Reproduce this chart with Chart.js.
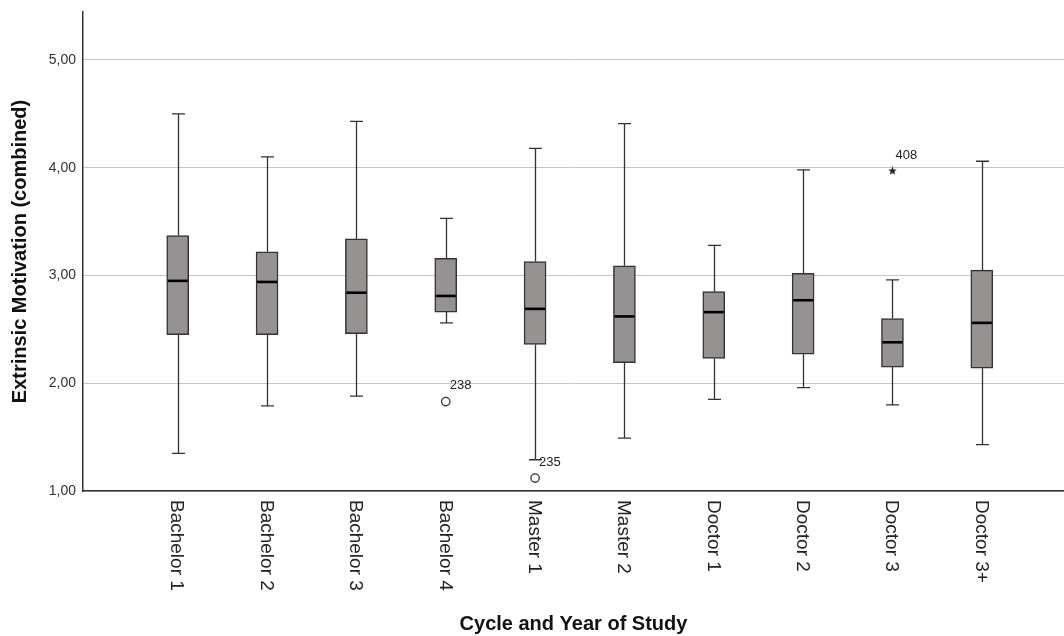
<!DOCTYPE html>
<html>
<head>
<meta charset="utf-8">
<title>Extrinsic Motivation by Cycle and Year of Study</title>
<script src="https://cdn.jsdelivr.net/npm/chart.js@4.4.1/dist/chart.umd.min.js"></script>
<style>
  html, body { margin: 0; padding: 0; background: #ffffff; }
  #wrap { width: 1064px; height: 636px; position: relative; }
</style>
</head>
<body>
<div id="wrap"><canvas id="chart"></canvas></div>
<script>
// Groups on the horizontal axis
const categories = ['Bachelor 1', 'Bachelor 2', 'Bachelor 3', 'Bachelor 4', 'Master 1',
                    'Master 2', 'Doctor 1', 'Doctor 2', 'Doctor 3', 'Doctor 3+'];

// Five-number summaries per group
const whiskerLow  = [1.35, 1.79, 1.88, 2.56, 1.29, 1.49, 1.85, 1.96, 1.80, 1.43];
const quartile1   = [2.45, 2.45, 2.46, 2.66, 2.36, 2.19, 2.23, 2.27, 2.15, 2.14];
const medians     = [2.95, 2.94, 2.84, 2.81, 2.69, 2.62, 2.66, 2.77, 2.38, 2.56];
const quartile3   = [3.37, 3.22, 3.34, 3.16, 3.13, 3.09, 2.85, 3.02, 2.60, 3.05];
const whiskerHigh = [4.50, 4.10, 4.43, 3.53, 4.18, 4.41, 3.28, 3.98, 2.96, 4.06];

// Outliers (circles) and extreme values (stars) with case numbers
const outlierCategory = [3, 4];
const outlierValue    = [1.83, 1.12];
const outlierLabel    = ['238', '235'];
const extremeCategory = [8];
const extremeValue    = [3.97];
const extremeLabel    = ['408'];

// Value axis ticks
const yTicks = [1, 2, 3, 4, 5];

const FONT = '"Liberation Sans", Arial, Helvetica, sans-serif';
const INK = '#333333';
const BOX_WIDTH = 22;
const CAP_WIDTH = 13;

// Small filled star used as the marker for extreme values
function makeStar(size, color) {
  const c = document.createElement('canvas');
  c.width = size; c.height = size;
  const g = c.getContext('2d');
  const cx = size / 2, cy = size / 2, R = size / 2, r = R * 0.42;
  g.beginPath();
  for (let k = 0; k < 10; k++) {
    const rad = k % 2 === 0 ? R : r;
    const a = -Math.PI / 2 + k * Math.PI / 5;
    const px = cx + rad * Math.cos(a), py = cy + rad * Math.sin(a);
    if (k === 0) g.moveTo(px, py); else g.lineTo(px, py);
  }
  g.closePath();
  g.fillStyle = color;
  g.fill();
  return c;
}

// Drop the label padding Chart.js reserves at the ends of an axis
function noEdgePadding(scale) {
  scale.paddingTop = 0;
  scale.paddingBottom = 0;
  scale.paddingLeft = 0;
  scale.paddingRight = 0;
}

const boxData = categories.map((_, i) => ({ x: i, y: [quartile1[i], quartile3[i]] }));
const outlierData = outlierCategory.map((c, i) => ({ x: c, y: outlierValue[i] }));
const extremeData = extremeCategory.map((c, i) => ({ x: c, y: extremeValue[i] }));

// Whiskers behind the boxes, medians on top, rotated group labels and case numbers
const boxplotPlugin = {
  id: 'boxplotParts',
  beforeDatasetsDraw(chart) {
    const { ctx, scales: { x, y } } = chart;
    ctx.save();
    ctx.strokeStyle = INK;
    ctx.lineWidth = 1.3;
    categories.forEach((_, i) => {
      const px = Math.round(x.getPixelForValue(i)) + 0.5;
      const yl = y.getPixelForValue(whiskerLow[i]);
      const yh = y.getPixelForValue(whiskerHigh[i]);
      const y1 = y.getPixelForValue(quartile1[i]);
      const y3 = y.getPixelForValue(quartile3[i]);
      ctx.beginPath();
      ctx.moveTo(px, yh); ctx.lineTo(px, y3);
      ctx.moveTo(px, y1); ctx.lineTo(px, yl);
      ctx.moveTo(px - CAP_WIDTH / 2, yh); ctx.lineTo(px + CAP_WIDTH / 2, yh);
      ctx.moveTo(px - CAP_WIDTH / 2, yl); ctx.lineTo(px + CAP_WIDTH / 2, yl);
      ctx.stroke();
    });
    ctx.restore();
  },
  afterDatasetsDraw(chart) {
    const { ctx, scales: { x, y } } = chart;
    ctx.save();
    // medians
    const boxes = chart.getDatasetMeta(0).data;
    ctx.strokeStyle = '#000000';
    ctx.lineWidth = 2.6;
    boxes.forEach((bar, i) => {
      const pm = y.getPixelForValue(medians[i]);
      const half = bar.width / 2 - 1;
      ctx.beginPath();
      ctx.moveTo(bar.x - half, pm);
      ctx.lineTo(bar.x + half, pm);
      ctx.stroke();
    });
    // case numbers next to outliers and extremes
    ctx.fillStyle = '#222222';
    ctx.font = '13px ' + FONT;
    ctx.textAlign = 'left';
    ctx.textBaseline = 'middle';
    chart.getDatasetMeta(1).data.forEach((pt, i) => {
      ctx.fillText(outlierLabel[i], pt.x + 4, pt.y - 16);
    });
    chart.getDatasetMeta(2).data.forEach((pt, i) => {
      ctx.fillText(extremeLabel[i], pt.x + 3, pt.y - 16);
    });
    // group labels, rotated to read downward
    ctx.font = '19px ' + FONT;
    ctx.fillStyle = '#222222';
    categories.forEach((label, i) => {
      const px = x.getPixelForValue(i);
      ctx.save();
      ctx.translate(px - 1, x.top + 9);
      ctx.rotate(Math.PI / 2);
      ctx.textAlign = 'left';
      ctx.textBaseline = 'middle';
      ctx.fillText(label, 0, 0);
      ctx.restore();
    });
    ctx.restore();
  }
};

new Chart(document.getElementById('chart'), {
  type: 'bar',
  data: {
    datasets: [
      {
        label: 'Extrinsic Motivation (combined)',
        data: boxData,
        backgroundColor: '#969291',
        borderColor: INK,
        borderWidth: 1.5,
        borderSkipped: false,
        barThickness: BOX_WIDTH,
        grouped: false,
        order: 2
      },
      {
        type: 'line',
        label: 'Outliers',
        data: outlierData,
        showLine: false,
        pointStyle: 'circle',
        pointRadius: 4.2,
        pointBorderWidth: 1.3,
        pointBorderColor: INK,
        pointBackgroundColor: 'rgba(255,255,255,0)',
        order: 1
      },
      {
        type: 'line',
        label: 'Extremes',
        data: extremeData,
        showLine: false,
        pointStyle: makeStar(9, '#222222'),
        pointRadius: 4.5,
        order: 1
      }
    ]
  },
  options: {
    responsive: true,
    maintainAspectRatio: false,
    animation: false,
    events: [],
    layout: { autoPadding: false, padding: { top: 12, left: 0, right: 0, bottom: 0 } },
    plugins: {
      legend: { display: false },
      tooltip: { enabled: false },
      title: { display: false }
    },
    scales: {
      x: {
        type: 'linear',
        offset: false,
        min: -1.06,
        max: 9.92,
        grid: { display: false, drawTicks: false },
        border: { display: true, color: INK, width: 1.5 },
        ticks: { display: false },
        title: {
          display: true,
          text: 'Cycle and Year of Study',
          color: '#111111',
          font: { family: FONT, size: 20, weight: 'bold' },
          padding: { top: 0, bottom: 0 }
        },
        afterFit(scale) { scale.height = 145; noEdgePadding(scale); }
      },
      y: {
        type: 'linear',
        min: 1,
        max: 5.445,
        grid: {
          drawTicks: false,
          color: '#c6c6c6',
          lineWidth: 1
        },
        border: { display: true, color: INK, width: 1.5 },
        afterBuildTicks(scale) { scale.ticks = yTicks.map(v => ({ value: v })); },
        ticks: {
          padding: 7,
          color: '#333333',
          font: { family: FONT, size: 14 },
          callback: v => v.toFixed(2).replace('.', ',')
        },
        title: {
          display: true,
          text: 'Extrinsic Motivation (combined)',
          color: '#111111',
          font: { family: FONT, size: 20, weight: 'bold' },
          padding: { top: 8, bottom: 0 }
        },
        afterFit(scale) { scale.width = 83; noEdgePadding(scale); }
      }
    }
  },
  plugins: [boxplotPlugin]
});
</script>
</body>
</html>
